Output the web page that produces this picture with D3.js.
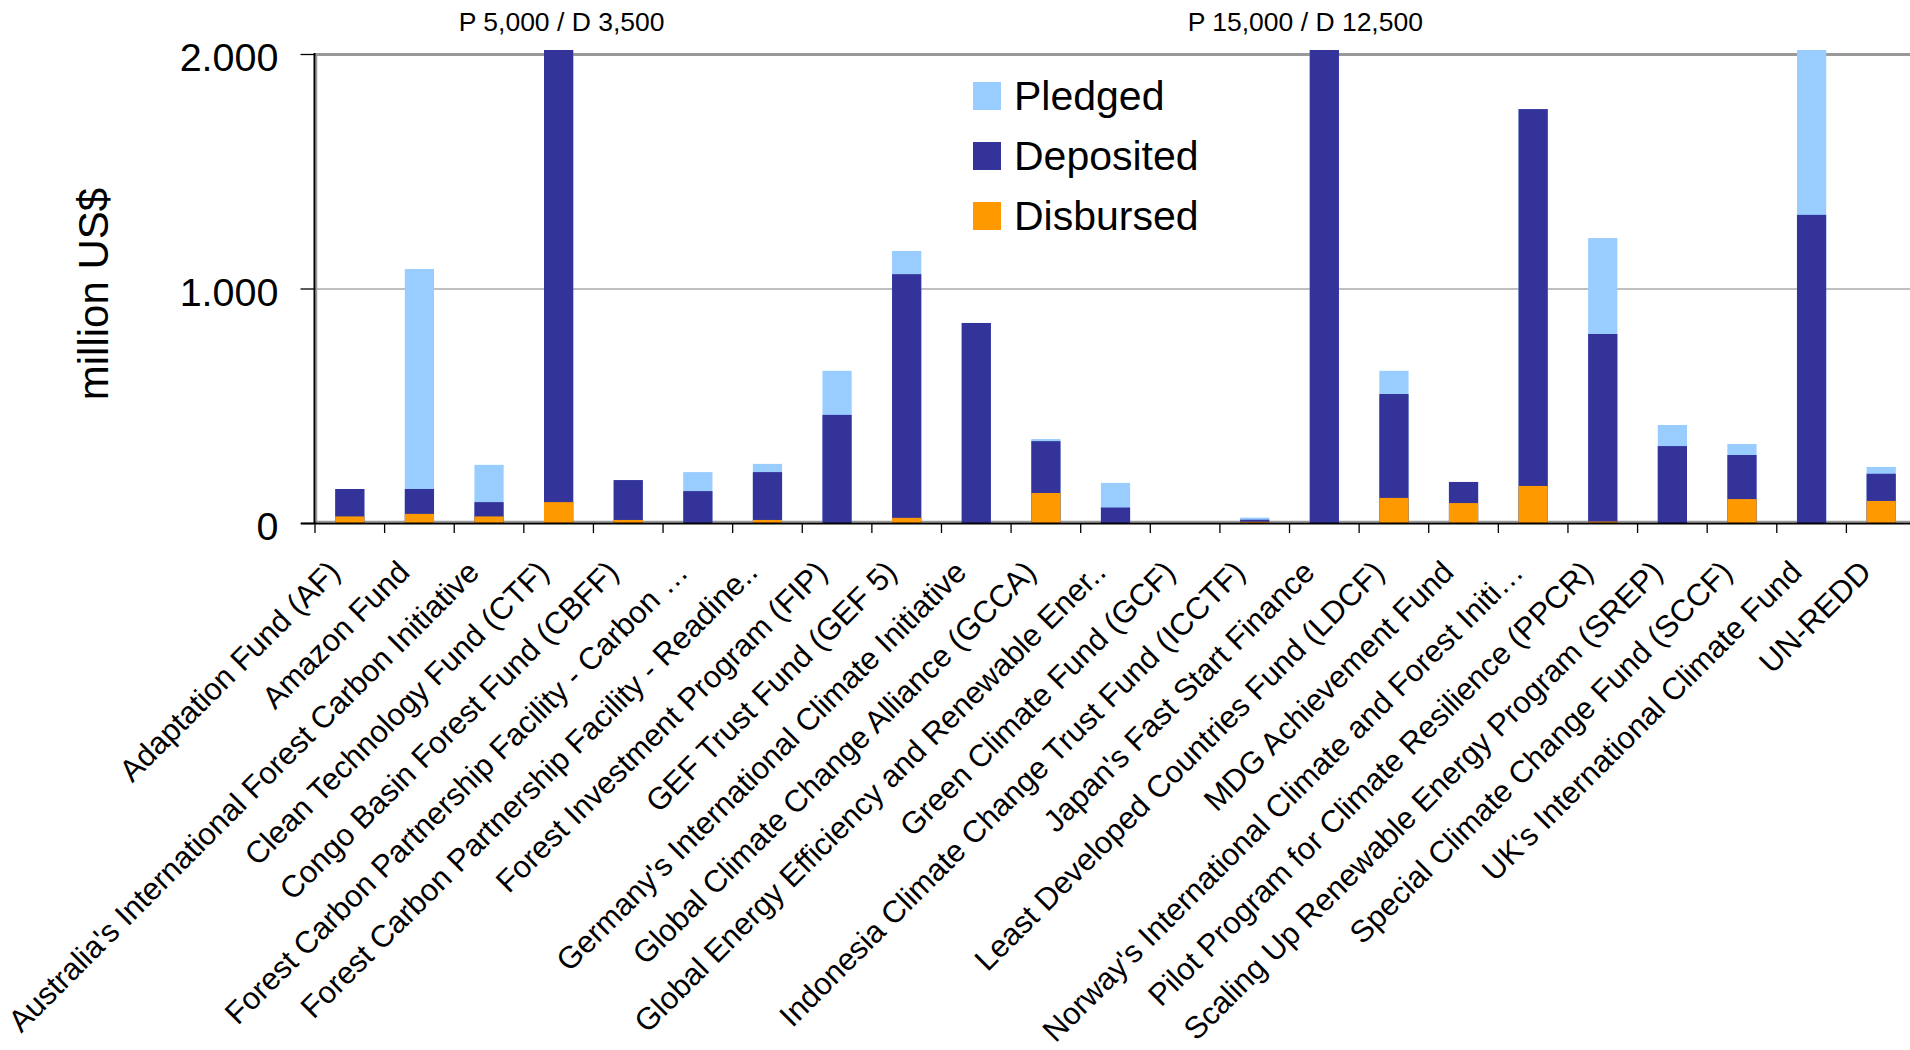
<!DOCTYPE html>
<html>
<head>
<meta charset="utf-8">
<script src="https://cdn.jsdelivr.net/npm/d3@7"></script>
<style>
  html, body { margin: 0; padding: 0; background: #fff; }
  svg { display: block; font-family: "Liberation Sans", Arial, sans-serif; }
</style>
</head>
<body>
<svg id="chart" width="1910" height="1050"></svg>
<script>
const categories = [
  "Adaptation Fund (AF)",
  "Amazon Fund",
  "Australia's International Forest Carbon Initiative",
  "Clean Technology Fund (CTF)",
  "Congo Basin Forest Fund (CBFF)",
  "Forest Carbon Partnership Facility - Carbon \u2026",
  "Forest Carbon Partnership Facility - Readine..",
  "Forest Investment Program (FIP)",
  "GEF Trust Fund (GEF 5)",
  "Germany's International Climate Initiative",
  "Global Climate Change Alliance (GCCA)",
  "Global Energy Efficiency and Renewable Ener..",
  "Green Climate Fund (GCF)",
  "Indonesia Climate Change Trust Fund (ICCTF)",
  "Japan's Fast Start Finance",
  "Least Developed Countries Fund (LDCF)",
  "MDG Achievement Fund",
  "Norway's International Climate and Forest Initi\u2026",
  "Pilot Program for Climate Resilience (PPCR)",
  "Scaling Up Renewable Energy Program (SREP)",
  "Special Climate Change Fund (SCCF)",
  "UK's International Climate Fund",
  "UN-REDD"
];
const pledged   = [145, 1083, 248, 5000, 183, 217, 252, 649, 1160, 853, 358, 171, 0, 23, 15000, 649, 175, 1765, 1215, 418, 337, 2900, 239];
const deposited = [145, 145, 89, 3500, 183, 136, 217, 461, 1061, 853, 349, 66, 0, 14, 12500, 550, 175, 1765, 806, 328, 290, 1314, 210];
const disbursed = [28, 39, 28, 89, 13, 0, 13, 0, 22, 0, 128, 0, 0, 5, 0, 107, 85, 158, 6, 0, 102, 0, 94];
const seriesNames = ["Pledged", "Deposited", "Disbursed"];
const yTicks = [0, 1000, 2000];
const annotationCats = ["Clean Technology Fund (CTF)", "Japan's Fast Start Finance"];
const annotationTexts = ["P 5,000 / D 3,500", "P 15,000 / D 12,500"];

const colors = { Pledged: "#99CCFF", Deposited: "#333399", Disbursed: "#FF9900" };
const seriesData = { Pledged: pledged, Deposited: deposited, Disbursed: disbursed };

const svg = d3.select("#chart");
const pLeft = 315, pRight = 1916, pTop = 54, pBottom = 523;

const x = d3.scaleBand().domain(categories).range([pLeft, pRight])
  .paddingInner(0.58).paddingOuter(0.29);
const y = d3.scaleLinear().domain([0, 2000]).range([pBottom, pTop]);

// clip for bars (bars run slightly past the top gridline)
svg.append("defs").append("clipPath").attr("id", "plotclip")
  .append("rect").attr("x", pLeft).attr("y", pTop - 4).attr("width", pRight - pLeft).attr("height", pBottom - pTop + 4);

// gridline 1000
svg.append("g").selectAll("line").data(yTicks.filter(d => d > 0 && d < 2000)).join("line")
  .attr("x1", pLeft).attr("x2", pRight).attr("y1", d => y(d) + 0.5).attr("y2", d => y(d) + 0.5)
  .attr("stroke", "#808080").attr("stroke-width", 1.2);

// plot area border / 2000 line
svg.append("line").attr("x1", pLeft).attr("x2", pRight).attr("y1", y(2000) + 0.5).attr("y2", y(2000) + 0.5)
  .attr("stroke", "#999999").attr("stroke-width", 3);
svg.append("line").attr("x1", pLeft + 1.5).attr("x2", pLeft + 1.5).attr("y1", pTop).attr("y2", pBottom)
  .attr("stroke", "#999999").attr("stroke-width", 1.5);
svg.append("line").attr("x1", pLeft).attr("x2", pRight).attr("y1", pBottom - 1.5).attr("y2", pBottom - 1.5)
  .attr("stroke", "#999999").attr("stroke-width", 1.5);

// bars
const barsG = svg.append("g").attr("clip-path", "url(#plotclip)");
seriesNames.forEach(name => {
  const vals = seriesData[name];
  barsG.append("g").selectAll("rect").data(categories.map((c, i) => ({ c, v: vals[i] })))
    .join("rect")
    .attr("x", d => x(d.c))
    .attr("width", x.bandwidth())
    .attr("y", d => y(d.v))
    .attr("height", d => Math.max(0, y(0) - y(d.v)))
    .attr("fill", colors[name]);
});

// y axis
const fmt = d3.formatLocale({ decimal: ",", thousands: ".", grouping: [3], currency: ["", "$"] }).format(",");
const yAxis = svg.append("g").attr("transform", `translate(${pLeft - 0.5},0)`)
  .call(d3.axisLeft(y).tickValues(yTicks).tickSize(14).tickPadding(22).tickFormat(fmt));
yAxis.select(".domain").attr("stroke", "#000").attr("stroke-width", 2)
  .attr("d", `M0,${pTop - 1}V${pBottom + 1}`);
yAxis.selectAll(".tick line").attr("stroke", "#000").attr("stroke-width", 1.3);
yAxis.selectAll(".tick text").attr("font-size", 39.5).attr("fill", "#000")
  .attr("font-family", "'Liberation Sans', Arial, sans-serif").attr("dy", "0.42em");

// x axis line
svg.append("line").attr("x1", pLeft - 14).attr("x2", pRight).attr("y1", pBottom + 0.5).attr("y2", pBottom + 0.5)
  .attr("stroke", "#000").attr("stroke-width", 2);

// x ticks at category boundaries
const boundaries = categories.map(c => x(c) + x.bandwidth() / 2 - x.step() / 2);
svg.append("g").selectAll("line").data(boundaries).join("line")
  .attr("x1", d => d).attr("x2", d => d).attr("y1", pBottom).attr("y2", pBottom + 10)
  .attr("stroke", "#000").attr("stroke-width", 1.3);

// x labels
svg.append("g").selectAll("text").data(categories).join("text")
  .attr("transform", c => `translate(${x(c) + x.bandwidth() / 2 - 8},574) rotate(-45)`)
  .attr("text-anchor", "end")
  .attr("font-size", 31)
  .attr("fill", "#000")
  .text(c => c);

// y title
svg.append("text").attr("transform", "translate(108,294) rotate(-90)")
  .attr("text-anchor", "middle").attr("font-size", 42).attr("fill", "#000").text("million US$");

// annotations
const annOffsets = [3, -19];
svg.append("g").selectAll("text").data(annotationCats).join("text")
  .attr("x", (c, i) => x(c) + x.bandwidth() / 2 + annOffsets[i])
  .attr("y", 31)
  .attr("text-anchor", "middle").attr("font-size", 26.5).attr("fill", "#000")
  .text((c, i) => annotationTexts[i]);

// legend
const legend = svg.append("g").attr("transform", "translate(973,82)");
const li = legend.selectAll("g").data(seriesNames).join("g")
  .attr("transform", (d, i) => `translate(0,${i * 60})`);
li.append("rect").attr("width", 28).attr("height", 28).attr("fill", d => colors[d]);
li.append("text").attr("x", 41).attr("y", 28).attr("font-size", 41).attr("fill", "#000").text(d => d);
</script>
</body>
</html>
